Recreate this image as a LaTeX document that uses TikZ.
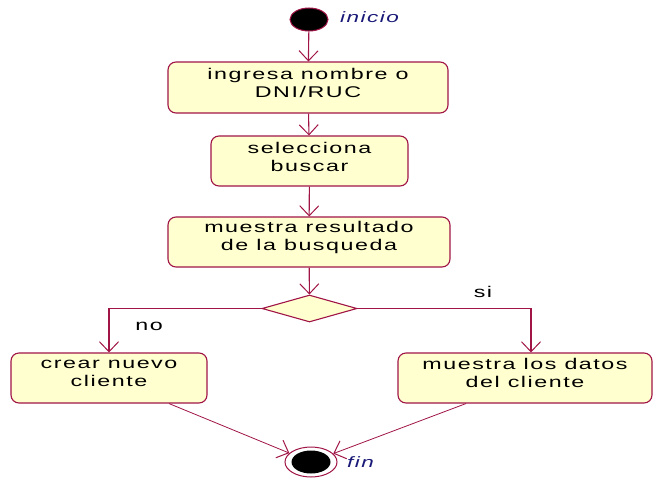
\documentclass[tikz,border=0pt]{standalone}
\usepackage{fontspec}
\setmainfont[FakeStretch=1.5,LetterSpace=10]{Liberation Sans}
\usetikzlibrary{arrows.meta,shapes.geometric,calc}
\definecolor{umlline}{RGB}{160,20,70}
\definecolor{umlfill}{RGB}{255,255,208}
\definecolor{umlnote}{RGB}{25,25,120}
\begin{document}
\begin{tikzpicture}[x=1pt,y=-1pt,
  actbox/.style={draw=umlline,fill=umlfill,line width=1.1pt,rounded corners=8pt,inner sep=0pt},
  txt/.style={font=\fontsize{15.5}{18}\selectfont,align=center,inner sep=0pt,text=black},
  note/.style={font=\fontsize{15.5}{18}\selectfont\itshape,inner sep=0pt,text=umlnote},
  flow/.style={draw=umlline,line width=1.1pt,-{Straight Barb[length=10pt,width=19pt,line width=1pt]}},
  choice/.style={diamond,draw=umlline,fill=umlfill,line width=1.1pt,aspect=3.5,minimum width=95pt,minimum height=27pt,inner sep=0pt}]
\useasboundingbox (0,0) rectangle (655,479);
% start
\node[ellipse,draw=umlline,fill=black,line width=1pt,minimum width=38pt,minimum height=23pt,inner sep=0pt] (ini) at (309,19.5) {};
\node[note,anchor=west,font=\fontsize{15}{18}\selectfont\itshape] (inilab) at (340,17) {inicio};
% boxes
\node[actbox,minimum width=280pt,minimum height=51pt] (b1) at (308,87.5) {};
\node[txt] (t1) at ([yshift=5pt]b1.center) {ingresa nombre o\\DNI/RUC};
\node[actbox,minimum width=197pt,minimum height=50pt] (b2) at (309.5,161) {};
\node[txt] (t2) at ([yshift=4.5pt]b2.center) {selecciona\\ buscar};
\node[actbox,minimum width=282pt,minimum height=50pt] (b3) at (309,242) {};
\node[txt] (t3) at ([yshift=5pt]b3.center) {muestra resultado\\de la busqueda};
% decision
\node[choice] (dec) at (309.5,308.5) {};
% branch boxes
\node[actbox,minimum width=196pt,minimum height=50pt] (lb) at (109,378) {};
\node[txt] (tl) at ([yshift=5pt]lb.center) {crear nuevo\\cliente};
\node[actbox,minimum width=254pt,minimum height=50pt] (rb) at (525,378) {};
\node[txt] (tr) at ([yshift=5pt]rb.center) {muestra los datos\\del cliente};
% end
\node[ellipse,draw=umlline,fill=white,line width=1pt,minimum width=52pt,minimum height=30pt,inner sep=0pt] (fin) at (311,462) {};
\node[ellipse,fill=black,minimum width=39pt,minimum height=23pt,inner sep=0pt] (fincore) at (fin.center) {};
\node[note,anchor=west,font=\fontsize{15}{18}\selectfont\itshape] (finlab) at (347,462) {fin};
% labels
\node[txt] (nolab) at (149,326) {no};
\node[txt] (silab) at (483,292) {si};
% flows
\draw[flow] (ini) -- (b1);
\draw[flow] (b1) -- (b2);
\draw[flow] (b2) -- (b3);
\draw[flow] (b3) -- (dec);
\draw[flow] (dec.west) -| (lb.north);
\coordinate (rbin) at ([xshift=6pt]rb.north);
\draw[flow] (dec.east) -| (rbin);
\coordinate (lbout) at ([xshift=60pt]lb.south);
\coordinate (rbout) at ([xshift=-59pt]rb.south);
\draw[flow,line width=0.8pt] (lbout) -- (fin);
\draw[flow,line width=0.8pt] (rbout) -- (fin);
\end{tikzpicture}
\end{document}
